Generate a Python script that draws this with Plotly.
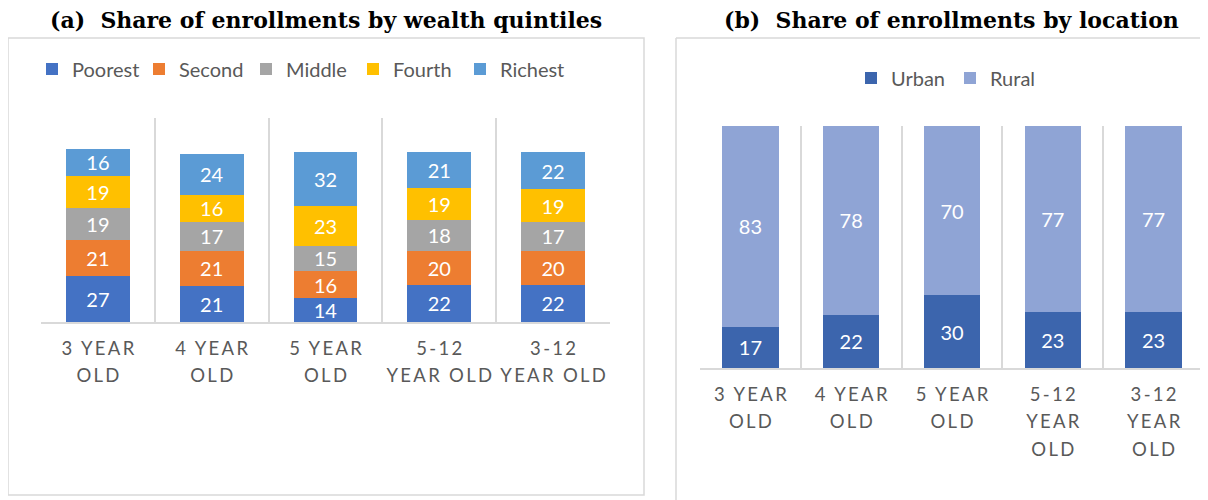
import plotly.graph_objects as go

# ---------------- data ----------------
age_groups = ["3 YEAR OLD", "4 YEAR OLD", "5 YEAR OLD", "5-12 YEAR OLD", "3-12 YEAR OLD"]
left_ticks = ["3 YEAR<br>OLD", "4 YEAR<br>OLD", "5 YEAR<br>OLD", "5-12<br>YEAR OLD", "3-12<br>YEAR OLD"]
right_ticks = ["3 YEAR<br>OLD", "4 YEAR<br>OLD", "5 YEAR<br>OLD", "5-12<br>YEAR<br>OLD", "3-12<br>YEAR<br>OLD"]

poorest = [27, 21, 14, 22, 22]
second = [21, 21, 16, 20, 20]
middle = [19, 17, 15, 18, 17]
fourth = [19, 16, 23, 19, 19]
richest = [16, 24, 32, 21, 22]

urban = [17, 22, 30, 23, 23]
rural = [83, 78, 70, 77, 77]

quintile_names = ["Poorest", "Second", "Middle", "Fourth", "Richest"]
quintile_values = [poorest, second, middle, fourth, richest]
quintile_colors = ["#4472C4", "#ED7D31", "#A5A5A5", "#FFC000", "#5B9BD5"]
location_names = ["Urban", "Rural"]
location_values = [urban, rural]
location_colors = ["#3C65AD", "#8FA4D5"]

W, H = 1208, 500
OFF = 8  # page body margin
def px(x): return (x - OFF) / W
def py(y): return 1 - (y - OFF) / H

def spaced(label):
    # emulate the wide letter spacing of the original tick labels
    out = []
    for part in label.split("<br>"):
        out.append("\u2009".join(list(part)).replace("\u2009 \u2009", "\u2009\u2009 "))
    return '<span style="font-size:18.5px">' + "<br>".join(out) + "</span>"

GRAY = "#595959"
LINE = "#D9D9D9"
FONT = "Lato"

fig = go.Figure()

for name, vals, col in zip(quintile_names, quintile_values, quintile_colors):
    fig.add_trace(go.Bar(
        x=age_groups, y=vals, name=name, marker=dict(color=col, line=dict(width=0)),
        text=vals, texttemplate="%{text}", textposition="inside", insidetextanchor="middle",
        textangle=0, constraintext="none",
        textfont=dict(color="white", size=20, family=FONT),
        xaxis="x", yaxis="y", legend="legend"))

for name, vals, col in zip(location_names, location_values, location_colors):
    fig.add_trace(go.Bar(
        x=age_groups, y=vals, name=name, marker=dict(color=col, line=dict(width=0)),
        text=vals, texttemplate="%{text}", textposition="inside", insidetextanchor="middle",
        textangle=0, constraintext="none",
        textfont=dict(color="white", size=20, family=FONT),
        xaxis="x2", yaxis="y2", legend="legend2"))

xcommon = dict(type="category", tickson="boundaries", showgrid=True, gridcolor=LINE, gridwidth=1.5,
               showline=True, linecolor=LINE, linewidth=1.5, ticks="", fixedrange=True,
               tickfont=dict(family=FONT, size=21, color=GRAY))
ycommon = dict(showgrid=False, zeroline=False, showticklabels=False, showline=False)

fig.update_layout(
    width=W, height=H, margin=dict(l=0, r=0, t=0, b=0),
    paper_bgcolor="white", plot_bgcolor="white",
    barmode="stack", bargap=0.44,
    font=dict(family=FONT, color=GRAY),
    xaxis=dict(domain=[px(41), px(610)], anchor="y", tickvals=age_groups,
               ticktext=[spaced(t) for t in left_ticks], range=[-0.5, 4.5],
               ticklabelstandoff=6, **xcommon),
    yaxis=dict(domain=[py(322), py(118)], range=[0, 120], anchor="x", **ycommon),
    xaxis2=dict(domain=[px(700), px(1204)], anchor="y2", tickvals=age_groups,
                ticktext=[spaced(t) for t in right_ticks], range=[-0.5, 4.5],
                ticklabelstandoff=6, **xcommon),
    yaxis2=dict(domain=[py(368), py(126)], range=[0, 100], anchor="x2", **ycommon),
    legend=dict(orientation="h", x=px(32), y=py(69), xanchor="left", yanchor="middle",
                font=dict(family=FONT, size=20, color=GRAY), itemwidth=30,
                entrywidth=62, traceorder="normal", bgcolor="rgba(0,0,0,0)"),
    legend2=dict(orientation="h", x=px(946), y=py(78), xanchor="center", yanchor="middle",
                 font=dict(family=FONT, size=20, color=GRAY), itemwidth=30,
                 traceorder="normal", bgcolor="rgba(0,0,0,0)"),
    showlegend=True,
)

# panel frames
fig.add_shape(type="rect", xref="paper", yref="paper", x0=px(8), x1=px(644), y0=py(495), y1=py(38),
              line=dict(color=LINE, width=1.5), layer="below")
fig.add_shape(type="line", xref="paper", yref="paper", x0=px(676), x1=px(676), y0=0, y1=py(38),
              line=dict(color=LINE, width=1.5), layer="below")
fig.add_shape(type="line", xref="paper", yref="paper", x0=px(676), x1=1, y0=py(38), y1=py(38),
              line=dict(color=LINE, width=1.5), layer="below")

# panel titles
title_font = dict(family="DejaVu Serif", size=22, color="black")
fig.add_annotation(text="<b>(a)  Share of enrollments by wealth quintiles</b>", xref="paper", yref="paper",
                   x=px(326), y=py(20), xanchor="center", yanchor="middle", showarrow=False, font=title_font)
fig.add_annotation(text="<b>(b)  Share of enrollments by location</b>", xref="paper", yref="paper",
                   x=px(951), y=py(20), xanchor="center", yanchor="middle", showarrow=False, font=title_font)

fig.write_html("out.html")
